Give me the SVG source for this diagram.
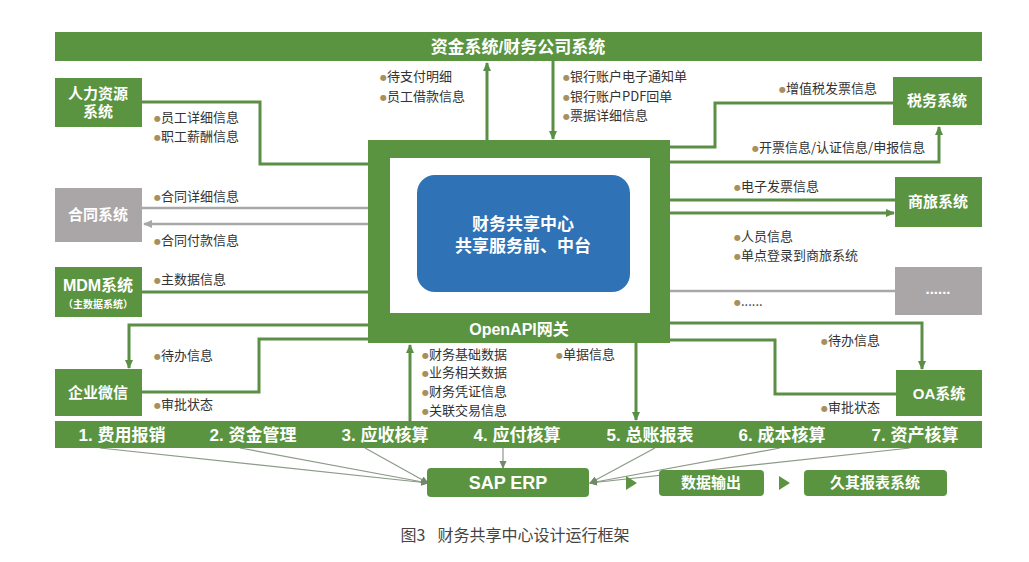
<svg xmlns="http://www.w3.org/2000/svg" width="1029" height="562" viewBox="0 0 1029 562">
<style>
.g{fill:#5a9440}
.gr{fill:#aaa6a7}
.nt{fill:#fff;font-family:"Liberation Sans","Noto Sans CJK SC",sans-serif;font-weight:bold;font-size:15px;text-anchor:middle}
.bt{fill:#fff;font-family:"Liberation Sans","Noto Sans CJK SC",sans-serif;font-weight:bold;font-size:17px;text-anchor:middle}
.lb{fill:#333;font-family:"Noto Sans CJK SC",sans-serif;font-size:13px}
.b{fill:#a88f5e;font-family:"DejaVu Sans",sans-serif;font-size:8px;baseline-shift:1px}
.cg{fill:none;stroke:#5a8f45;stroke-width:3}
.cy{fill:none;stroke:#a8a8a8;stroke-width:2.5}
.ct{fill:none;stroke:#8c9a88;stroke-width:1.2}
</style>
<defs>
<marker id="ag" markerUnits="userSpaceOnUse" markerWidth="9" markerHeight="9" refX="8" refY="4.5" orient="auto"><path d="M0,0.5 L9,4.5 L0,8.5 z" fill="#5a8f45"/></marker>
<marker id="ay" markerUnits="userSpaceOnUse" markerWidth="9" markerHeight="9" refX="8" refY="4.5" orient="auto"><path d="M0,0.5 L9,4.5 L0,8.5 z" fill="#a8a8a8"/></marker>
<marker id="at" markerUnits="userSpaceOnUse" markerWidth="8" markerHeight="8" refX="7" refY="4" orient="auto"><path d="M0,0.5 L8,4 L0,7.5 z" fill="#6f8a68"/></marker>
</defs>
<rect width="1029" height="562" fill="#fff"/>

<g id="connectors">
<polyline class="cg" points="142,102 260,102 260,164 370,164"/>
<line class="cg" x1="487" y1="140" x2="487" y2="63" marker-end="url(#ag)"/>
<line class="cg" x1="553" y1="61" x2="553" y2="139" marker-end="url(#ag)"/>
<polyline class="cg" points="668,147 715,147 715,103 893,103"/>
<polyline class="cg" points="668,162 939,162 939,127" marker-end="url(#ag)"/>
<line class="cg" x1="668" y1="200" x2="895" y2="200"/>
<line class="cg" x1="668" y1="213" x2="894" y2="213" marker-end="url(#ag)"/>
<line class="cy" x1="668" y1="291" x2="895" y2="291"/>
<line class="cy" x1="370" y1="208" x2="142" y2="208"/>
<line class="cy" x1="370" y1="224" x2="144" y2="224" marker-end="url(#ay)"/>
<line class="cg" x1="142" y1="292" x2="370" y2="292"/>
<polyline class="cg" points="370,325 129,325 129,368" marker-end="url(#ag)"/>
<polyline class="cg" points="142,392 259,392 259,339 370,339"/>
<line class="cg" x1="410" y1="421" x2="410" y2="345" marker-end="url(#ag)"/>
<line class="cg" x1="636" y1="343" x2="636" y2="420" marker-end="url(#ag)"/>
<polyline class="cg" points="668,323 922,323 922,369" marker-end="url(#ag)"/>
<polyline class="cg" points="668,340 775,340 775,394 896,394"/>
<line class="ct" x1="100" y1="448" x2="428" y2="483" marker-end="url(#at)"/>
<line class="ct" x1="240" y1="448" x2="428" y2="483" marker-end="url(#at)"/>
<line class="ct" x1="365" y1="448" x2="428" y2="483" marker-end="url(#at)"/>
<line class="ct" x1="503" y1="448" x2="503" y2="468" marker-end="url(#at)"/>
<line class="ct" x1="655" y1="448" x2="590" y2="483" marker-end="url(#at)"/>
<line class="ct" x1="780" y1="448" x2="590" y2="483" marker-end="url(#at)"/>
<line class="ct" x1="910" y1="448" x2="590" y2="483" marker-end="url(#at)"/>
<path d="M626,476 L637,483 L626,490 z" fill="#5a9440"/>
<path d="M779,476 L790,483 L779,490 z" fill="#5a9440"/>
</g>

<g id="top-bar"><rect class="g" x="55" y="32" width="927" height="29"/><text class="bt" x="518" y="53">资金系统/财务公司系统</text></g>
<g id="hr"><rect class="g" x="55" y="78" width="87" height="49"/><text class="nt" x="98" y="99">人力资源</text><text class="nt" x="98" y="117">系统</text></g>
<g id="contract"><rect class="gr" x="55" y="188" width="87" height="54"/><text class="nt" x="98" y="220">合同系统</text></g>
<g id="mdm"><rect class="g" x="55" y="267" width="87" height="50"/><text class="nt" x="98" y="291" style="font-size:16px">MDM系统</text><text class="nt" x="98" y="308" style="font-size:10px">（主数据系统）</text></g>
<g id="wechat"><rect class="g" x="55" y="369" width="87" height="47"/><text class="nt" x="98" y="398">企业微信</text></g>
<g id="tax"><rect class="g" x="893" y="77" width="89" height="48"/><text class="nt" x="937" y="106">税务系统</text></g>
<g id="travel"><rect class="g" x="895" y="177" width="87" height="50"/><text class="nt" x="938" y="207">商旅系统</text></g>
<g id="more"><rect class="gr" x="895" y="267" width="87" height="48"/><text class="nt" x="938" y="294">......</text></g>
<g id="oa"><rect class="g" x="896" y="370" width="86" height="46"/><text class="nt" x="939" y="399">OA系统</text></g>

<g id="center">
<rect class="g" x="368" y="140" width="302" height="203"/>
<rect x="390" y="158" width="260" height="155" fill="#fff"/>
<rect x="417" y="175" width="213" height="117" rx="18" fill="#2f72b6"/>
<text class="bt" x="523" y="230">财务共享中心</text>
<text class="bt" x="523" y="252">共享服务前、中台</text>
<text class="bt" x="519" y="335" style="font-size:16px">OpenAPI网关</text>
</g>

<g id="bottom-bar"><rect class="g" x="55" y="421" width="927" height="27"/>
<text class="bt" x="122" y="441">1. 费用报销</text>
<text class="bt" x="253" y="441">2. 资金管理</text>
<text class="bt" x="385" y="441">3. 应收核算</text>
<text class="bt" x="517" y="441">4. 应付核算</text>
<text class="bt" x="650" y="441">5. 总账报表</text>
<text class="bt" x="782" y="441">6. 成本核算</text>
<text class="bt" x="915" y="441">7. 资产核算</text>
</g>
<g id="sap"><rect class="g" x="427" y="468" width="162" height="29" rx="4"/><text class="bt" x="508" y="489" style="font-size:18px">SAP ERP</text></g>
<g id="output"><rect class="g" x="659" y="470" width="105" height="26" rx="4"/><text class="nt" x="711" y="488">数据输出</text></g>
<g id="jiuqi"><rect class="g" x="804" y="470" width="143" height="26" rx="4"/><text class="nt" x="875" y="488">久其报表系统</text></g>

<g id="labels">
<text class="lb" x="154" y="122"><tspan class="b">●</tspan>员工详细信息</text>
<text class="lb" x="154" y="141"><tspan class="b">●</tspan>职工薪酬信息</text>
<text class="lb" x="380" y="81"><tspan class="b">●</tspan>待支付明细</text>
<text class="lb" x="380" y="101"><tspan class="b">●</tspan>员工借款信息</text>
<text class="lb" x="563" y="81"><tspan class="b">●</tspan>银行账户电子通知单</text>
<text class="lb" x="563" y="101"><tspan class="b">●</tspan>银行账户PDF回单</text>
<text class="lb" x="563" y="120"><tspan class="b">●</tspan>票据详细信息</text>
<text class="lb" x="779" y="93"><tspan class="b">●</tspan>增值税发票信息</text>
<text class="lb" x="752" y="152"><tspan class="b">●</tspan>开票信息/认证信息/申报信息</text>
<text class="lb" x="154" y="201"><tspan class="b">●</tspan>合同详细信息</text>
<text class="lb" x="154" y="245"><tspan class="b">●</tspan>合同付款信息</text>
<text class="lb" x="154" y="284"><tspan class="b">●</tspan>主数据信息</text>
<text class="lb" x="734" y="191"><tspan class="b">●</tspan>电子发票信息</text>
<text class="lb" x="734" y="241"><tspan class="b">●</tspan>人员信息</text>
<text class="lb" x="734" y="260"><tspan class="b">●</tspan>单点登录到商旅系统</text>
<text class="lb" x="734" y="306"><tspan class="b">●</tspan>......</text>
<text class="lb" x="154" y="360"><tspan class="b">●</tspan>待办信息</text>
<text class="lb" x="154" y="409"><tspan class="b">●</tspan>审批状态</text>
<text class="lb" x="422" y="359"><tspan class="b">●</tspan>财务基础数据</text>
<text class="lb" x="422" y="377"><tspan class="b">●</tspan>业务相关数据</text>
<text class="lb" x="422" y="396"><tspan class="b">●</tspan>财务凭证信息</text>
<text class="lb" x="422" y="415"><tspan class="b">●</tspan>关联交易信息</text>
<text class="lb" x="556" y="359"><tspan class="b">●</tspan>单据信息</text>
<text class="lb" x="821" y="345"><tspan class="b">●</tspan>待办信息</text>
<text class="lb" x="821" y="412"><tspan class="b">●</tspan>审批状态</text>
</g>
<text x="515" y="541" style="fill:#444;font-family:'Noto Sans CJK SC',sans-serif;font-size:16px;text-anchor:middle">图3<tspan dx="12">财务共享中心设计运行框架</tspan></text>
</svg>
